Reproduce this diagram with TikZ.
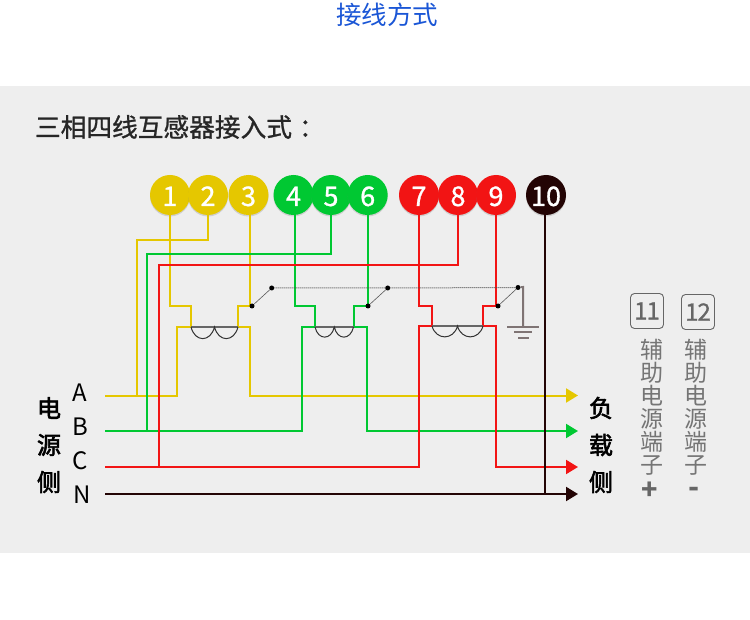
\documentclass[tikz,border=0pt]{standalone}
\usepackage{fontspec}
\setmainfont{Noto Sans CJK SC}
\newfontfamily\medfont[FakeBold=1]{Noto Sans CJK SC}
\newfontfamily\sidefont[FakeBold=2.5]{Noto Sans CJK SC}
\usetikzlibrary{arrows.meta,shadows}
\definecolor{yw}{HTML}{E5C700}
\definecolor{gw}{HTML}{00C832}
\definecolor{rw}{HTML}{F21414}
\definecolor{kw}{HTML}{230404}
\definecolor{gnd}{HTML}{7F7474}
\definecolor{panel}{HTML}{EEEEEE}
\definecolor{ttl}{HTML}{1A56D6}
\definecolor{aux}{HTML}{666666}
\tikzset{
  term/.style={circle,fill=#1,minimum size=40pt,inner sep=0pt,text=white,text height=22pt,text depth=0pt,font=\fontsize{27}{27}\medfont,
    drop shadow={opacity=.28,shadow xshift=0pt,shadow yshift=-1.5pt}},
  wire/.style={draw=#1,line width=2pt,line join=miter},
  load/.style={wire=#1,-{Triangle[length=12pt,width=14pt,fill=#1]}},
  sw/.style={draw=black!65,line width=.6pt},
  dotted link/.style={draw=black!70,line width=1pt,dash pattern=on 1pt off 1pt},
  dot/.style={circle,fill=black,minimum size=5pt,inner sep=0pt},
  bar/.style={draw=black!60,line width=2pt},
  coil/.style={draw=black!80,line width=1pt},
  gbar/.style={draw=gnd,line width=2pt},
  phase/.style={font=\fontsize{24}{24}\selectfont,text=black,inner sep=0pt},
  side/.style={font=\fontsize{24}{24}\sidefont,text=black,inner sep=0pt},
  auxbox/.style={draw=aux,rounded corners=4pt,line width=.9pt,minimum width=33pt,minimum height=35pt,inner sep=0pt,text=aux,font=\fontsize{24}{24}\medfont},
  auxtxt/.style={text=aux!90,inner sep=0pt,align=center,font=\fontsize{23}{23}\selectfont},
  auxsign/.style={text=aux,inner sep=0pt,font=\fontsize{27}{27}\selectfont\bfseries},
}
\begin{document}
\begin{tikzpicture}[x=1pt,y=-1pt]
\useasboundingbox (0,0) rectangle (750,620);
\fill[white] (0,0) rectangle (750,620);
\fill[panel] (0,86) rectangle (750,553);
\node[text=ttl,font=\fontsize{25.5}{25.5}\selectfont,inner sep=0pt] (title) at (387,15) {接线方式};
\node[text=black!85,anchor=west,font=\fontsize{25.7}{26}\medfont,inner sep=0pt] (head) at (34.8,127) {三相四线互感器接入式\hspace{7pt}：};
% terminals
\foreach \n/\x/\c in {1/170/yw,2/208/yw,3/248.5/yw,4/293.5/gw,5/331/gw,6/367.7/gw,7/419/rw,8/458/rw,9/496/rw,10/546/kw}
  \node[term=\c] (t\n) at (\x,195) {\n};
% source and load labels
\node[phase] (la) at (80,392.5) {A};
\node[phase] (lb) at (80,426.5) {B};
\node[phase] (lc) at (80,460.5) {C};
\node[phase] (ln) at (82,494.5) {N};
\node[side] (s1) at (49,408) {电};
\node[side] (s2) at (49,445) {源};
\node[side] (s3) at (49,482) {侧};
\node[side] (d1) at (601,408) {负};
\node[side] (d2) at (601,445) {载};
\node[side] (d3) at (601,482) {侧};
% line ends
\foreach \n/\y in {a/395.5,b/431,c/467,n/494}{
  \coordinate (in\n) at (105,\y);
  \coordinate (out\n) at (578,\y);
}
% CT corners
\coordinate (c1tl) at (191,306); \coordinate (c1bl) at (191,327);
\coordinate (c1tr) at (238,306); \coordinate (c1br) at (238,327);
\coordinate (c1o) at (177,327);  \coordinate (c1p) at (249.5,327);
\coordinate (c2tl) at (315,306); \coordinate (c2bl) at (315,327);
\coordinate (c2tr) at (353.5,306); \coordinate (c2br) at (353.5,327);
\coordinate (c2o) at (302,327);  \coordinate (c2p) at (367,327);
\coordinate (c3tl) at (432,306); \coordinate (c3bl) at (432,326);
\coordinate (c3tr) at (483,306); \coordinate (c3br) at (483,326);
\coordinate (c3o) at (419,326);  \coordinate (c3p) at (496,326);
\coordinate (busa) at (137,240.5);
\coordinate (busb) at (147,254);
\coordinate (busc) at (159,265);
% yellow
\draw[wire=yw] (t1.south) |- (c1tl) -- (c1bl) -- (c1o) -- (c1o |- ina) -- (ina);
\draw[wire=yw] ([xshift=-0.5pt]t2.south) -- ([xshift=-0.5pt]t2.south |- busa) -- (busa) -- (busa |- ina);
\draw[load=yw] ([xshift=1pt]t3.south) -- ([xshift=1pt]t3.south |- c1tr) -- (c1tr) -- (c1br) -- (c1p) -- (c1p |- outa) -- (outa);
% green
\draw[wire=gw] ([xshift=1.5pt]t4.south) -- ([xshift=1.5pt]t4.south |- c2tl) -- (c2tl) -- (c2bl) -- (c2o) -- (c2o |- inb) -- (inb);
\draw[wire=gw] (t5.south) |- (busb) -- (busb |- inb);
\draw[load=gw] (t6.south) |- (c2tr) -- (c2br) -- (c2p) -- (c2p |- outb) -- (outb);
% red
\draw[wire=rw] (t7.south) |- (c3tl) -- (c3bl) -- (c3o) -- (c3o |- inc) -- (inc);
\draw[wire=rw] (t8.south) |- (busc) -- (busc |- inc);
\draw[load=rw] (t9.south) |- (c3tr) -- (c3br) -- (c3p) -- (c3p |- outc) -- (outc);
% neutral
\draw[load=kw] (inn) -- (outn);
\draw[wire=kw,line width=1.6pt] ([xshift=-1pt]t10.south) -- ([xshift=-1pt]t10.south |- inn);
% CT bars and coils
\draw[bar] (c1bl) -- (c1br);
\draw[bar] (c2bl) -- (c2br);
\draw[bar] (c3bl) -- (c3br);
\draw[coil] (c1bl) .. controls +(4,15.5) and +(-4,15.5) .. (214.5,327) .. controls +(4,15.5) and +(-4,15.5) .. (c1br);
\draw[coil] (c2bl) .. controls +(3,13.5) and +(-3,13.5) .. (334.3,327) .. controls +(3,13.5) and +(-3,13.5) .. (c2br);
\draw[coil] (c3bl) .. controls +(4,14.5) and +(-4,14.5) .. (457.5,326) .. controls +(4,14.5) and +(-4,14.5) .. (c3br);
% switches
\node[dot] (p1) at (252,306) {}; \node[dot] (q1) at (271.7,288) {};
\node[dot] (p2) at (368,306) {}; \node[dot] (q2) at (387.7,288) {};
\node[dot] (p3) at (498,306) {}; \node[dot] (q3) at (518,287.5) {};
\draw[sw] (p1) -- (q1);
\draw[sw] (p2) -- (q2);
\draw[sw] (p3) -- (q3);
\draw[dotted link] (q1) -- (q2) -- (q3);
% earth
\coordinate (gtop) at (523,287);
\coordinate (gnode) at (523,327);
\draw[gbar] (q3) -- (gtop) -- (gnode);
\draw[gbar] (507,326.7) -- (539,326.7);
\draw[gbar] (514,332) -- (532,332);
\draw[gbar] (518,338) -- (529,338);
% auxiliary terminals
\node[auxbox] (x11) at (647,311) {1\kern-1pt 1};
\node[auxbox] (x12) at (698,312) {1\kern-1pt 2};
\node[auxtxt] (v11) at (652,407.5) {辅\\助\\电\\源\\端\\子};
\node[auxtxt] (v12) at (696,407.5) {辅\\助\\电\\源\\端\\子};
\node[auxsign,text height=19pt,text depth=0pt] (pl) at (650,490) {+};
\node[auxsign,font=\fontsize{29}{29}\selectfont\bfseries,text height=10pt,text depth=0pt] (mi) at (694,492) {-};
\end{tikzpicture}
\end{document}
